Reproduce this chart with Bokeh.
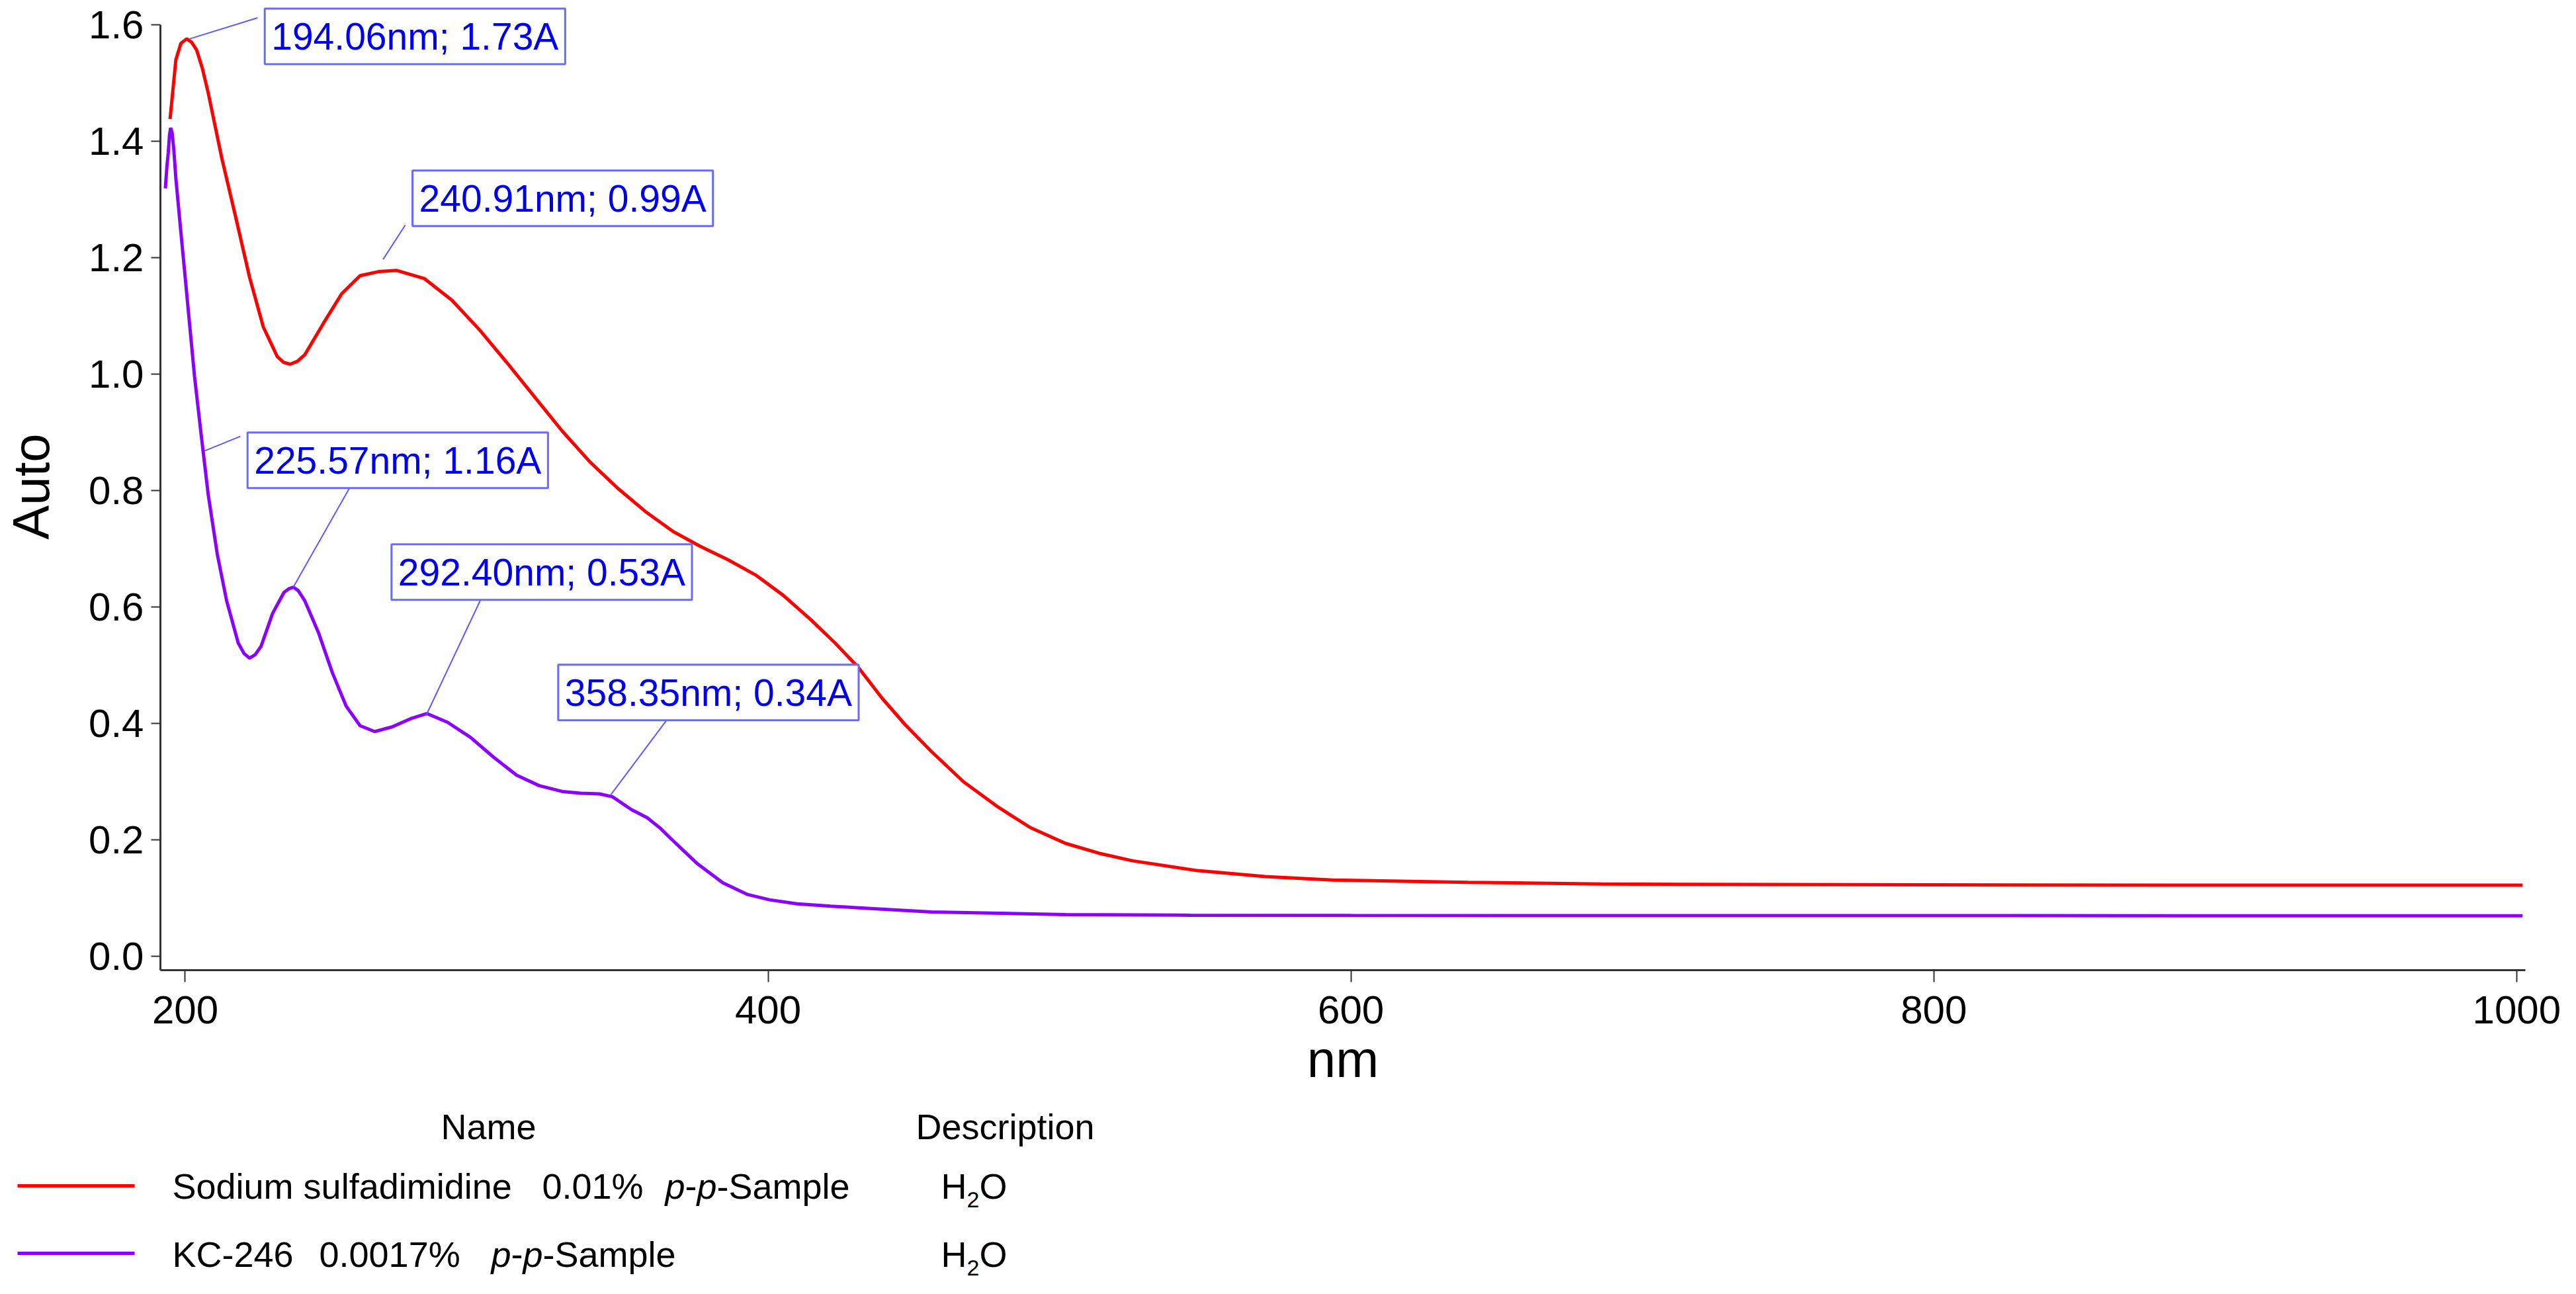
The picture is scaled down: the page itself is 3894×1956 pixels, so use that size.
from bokeh.plotting import figure
from bokeh.models import Label, Range1d, FixedTicker, PrintfTickFormatter
from bokeh.layouts import column, row
from bokeh.embed import file_html
from bokeh.resources import INLINE
from bokeh.core.properties import value

# ---------------- data ----------------
red_nm = [194.8, 196.8, 198.5, 200.5, 202.2, 203.9, 205.9, 207.9, 212.6, 217.4,
          222.1, 226.8, 231.6, 233.8, 236.0, 238.5, 241.0, 247.4, 253.7, 260.0,
          266.3, 272.6, 282.1, 291.5, 301.0, 310.5, 320.0, 329.4, 338.9, 348.4,
          357.9, 367.3, 376.8, 386.3, 395.7, 405.2, 414.7, 423.0, 431.0, 439.0,
          447.0, 456.0, 467.0, 479.0, 490.0, 502.0, 513.5, 525.0, 547.5, 570.6,
          593.7, 640.0, 686.0, 771.0, 880.0, 1002.0]
red_abs = [1.438, 1.540, 1.568, 1.576, 1.570, 1.557, 1.525, 1.483, 1.370, 1.268,
           1.166, 1.081, 1.030, 1.020, 1.017, 1.022, 1.033, 1.087, 1.138, 1.169,
           1.176, 1.178, 1.164, 1.127, 1.076, 1.019, 0.960, 0.902, 0.849, 0.804,
           0.764, 0.730, 0.704, 0.681, 0.655, 0.620, 0.578, 0.538, 0.496, 0.444,
           0.398, 0.352, 0.300, 0.256, 0.221, 0.194, 0.177, 0.164, 0.147, 0.137,
           0.131, 0.127, 0.124, 0.123, 0.122, 0.122]

purple_nm = [193.2, 193.7, 194.2, 194.6, 195.0, 195.5, 196.1, 196.8, 198.4, 200.0,
             203.2, 205.5, 207.9, 211.0, 214.2, 218.2, 220.2, 222.1, 224.0, 226.0,
             230.0, 233.9, 235.5, 237.1, 238.8, 241.0, 245.8, 250.5, 255.2, 260.0,
             265.0, 271.0, 277.3, 282.9, 290.0, 297.9, 305.8, 313.7, 321.5, 329.4,
             335.7, 342.1, 346.6, 353.1, 358.5, 363.0, 367.5, 375.5, 384.5, 393.0,
             400.5, 410.0, 421.5, 432.0, 456.0, 502.0, 545.0, 600.0, 771.0, 1002.0]
purple_abs = [1.319, 1.355, 1.381, 1.410, 1.423, 1.415, 1.385, 1.336, 1.250, 1.166,
              0.996, 0.895, 0.793, 0.691, 0.611, 0.538, 0.520, 0.512, 0.518, 0.532,
              0.589, 0.625, 0.631, 0.634, 0.628, 0.611, 0.555, 0.487, 0.430, 0.396,
              0.386, 0.394, 0.408, 0.417, 0.402, 0.376, 0.342, 0.311, 0.293, 0.283,
              0.280, 0.279, 0.274, 0.252, 0.238, 0.220, 0.198, 0.160, 0.126, 0.106,
              0.097, 0.090, 0.086, 0.083, 0.076, 0.0716, 0.0705, 0.070, 0.0699, 0.0695]

x_ticks = [200, 400, 600, 800, 1000]
y_ticks = [0.0, 0.2, 0.4, 0.6, 0.8, 1.0, 1.2, 1.4, 1.6]

# peak annotations: label text, box-left x, box-centre y
ann_text = ["194.06nm; 1.73A", "240.91nm; 0.99A", "225.57nm; 1.16A",
            "292.40nm; 0.53A", "358.35nm; 0.34A"]
ann_x = [224.8, 275.5, 218.9, 268.3, 325.5]
ann_y = [1.580, 1.302, 0.852, 0.660, 0.453]
# leader lines (from, to)
lead_x0 = [201.6, 267.9, 206.6, 256.8, 301.8, 365.7]
lead_y0 = [1.576, 1.197, 0.868, 0.808, 0.617, 0.409]
lead_x1 = [224.8, 275.5, 218.9, 237.1, 282.6, 346.0]
lead_y1 = [1.612, 1.256, 0.893, 0.634, 0.413, 0.277]

series_names = ["Sodium sulfadimidine", "KC-246"]
series_conc = ["0.01%", "0.0017%"]
series_kind = ["p", "-", "p", "-Sample"]
series_desc = ["H2O", "H2O"]
series_colors = ["#ff0000", "#8b00ff"]
legend_headers = ["Name", "Description"]

FONT = "Liberation Sans"
W = 3878
MAIN_H = 1666
LEG_H = 274

# ---------------- main figure ----------------
p = figure(width=W, height=MAIN_H,
           x_range=Range1d(191.5, 1003.0), y_range=Range1d(-0.0239, 1.6375),
           output_backend="svg", toolbar_location=None,
           min_border_left=230, min_border_right=61,
           min_border_top=4, min_border_bottom=MAIN_H - 1466)
p.outline_line_color = None
p.grid.visible = False
p.background_fill_color = "white"
p.border_fill_color = "white"

p.line(red_nm, red_abs, line_color=series_colors[0], line_width=5)
p.line(purple_nm, purple_abs, line_color=series_colors[1], line_width=5)

p.segment(x0=lead_x0, y0=lead_y0, x1=lead_x1, y1=lead_y1,
          line_color="#5a5aff", line_width=2)

for t, x, y in zip(ann_text, ann_x, ann_y):
    p.add_layout(Label(x=x, y=y, x_offset=11, text=t,
                       text_font=FONT, text_font_size="57px",
                       text_color="#0000f0", text_align="left",
                       text_baseline="middle",
                       border_line_color="#6a6aff", border_line_width=3,
                       background_fill_color="white", padding=10))

for ax in (p.xaxis[0], p.yaxis[0]):
    ax.axis_line_color = "#333333"
    ax.axis_line_width = 3
    ax.major_tick_line_color = "#333333"
    ax.major_tick_line_width = 2
    ax.major_tick_in = 0
    ax.minor_tick_line_color = None
    ax.major_label_text_font = FONT
    ax.major_label_text_font_size = "60px"
    ax.major_label_text_color = "black"
    ax.axis_label_text_font = FONT
    ax.axis_label_text_font_size = "78px"
    ax.axis_label_text_font_style = "normal"
    ax.axis_label_text_color = "black"

p.xaxis.ticker = FixedTicker(ticks=x_ticks)
p.yaxis.ticker = FixedTicker(ticks=y_ticks)
p.yaxis.formatter = PrintfTickFormatter(format="%.1f")
p.xaxis.axis_label = "nm"
p.yaxis.axis_label = "Auto"
p.xaxis.major_tick_out = 18
p.yaxis.major_tick_out = 14
p.xaxis.major_label_standoff = 21
p.yaxis.major_label_standoff = 11
p.xaxis.axis_label_standoff = 7
p.yaxis.axis_label_standoff = 40
p.yaxis.bounds = (-0.0239, 1.6)

# ---------------- legend table (below the chart) ----------------
lg = figure(width=W, height=LEG_H, x_range=Range1d(0, W), y_range=Range1d(0, LEG_H),
            output_backend="svg", toolbar_location=None,
            min_border_left=0, min_border_right=0, min_border_top=0, min_border_bottom=0)
lg.axis.visible = False
lg.grid.visible = False
lg.outline_line_color = None

FS = "54px"
common = dict(text_font=value(FONT), text_font_size=FS, text_color="black",
              text_baseline="alphabetic")

lg.text(x=[738, 1519], y=[238, 238], text=legend_headers, text_align="center", **common)

row_base = [148, 45]
row_line = [148, 46]
name_x = 260
conc_x = [819, 482]
kind_x = [1005, 742]
desc_x = 1422
kind_dx = [0, 30, 48, 78]
kind_style = ["italic", "normal", "italic", "normal"]

for i in range(2):
    lg.line([26, 203], [row_line[i], row_line[i]], line_color=series_colors[i], line_width=5)
    lg.text(x=[name_x], y=[row_base[i]], text=[series_names[i]], text_align="left", **common)
    lg.text(x=[conc_x[i]], y=[row_base[i]], text=[series_conc[i]], text_align="left", **common)
    for part, dx, st in zip(series_kind, kind_dx, kind_style):
        lg.text(x=[kind_x[i] + dx], y=[row_base[i]], text=[part], text_align="left",
                text_font_style=st, **common)
    d = series_desc[i]
    lg.text(x=[desc_x], y=[row_base[i]], text=[d[0]], text_align="left", **common)
    lg.text(x=[desc_x + 39], y=[row_base[i] - 21], text=[d[1]], text_align="left",
            text_font=value(FONT), text_font_size="34px", text_color="black",
            text_baseline="alphabetic")
    lg.text(x=[desc_x + 58], y=[row_base[i]], text=[d[2]], text_align="left", **common)

layout = column(p, row(lg), spacing=0)
open("out.html", "w").write(file_html(layout, INLINE))
